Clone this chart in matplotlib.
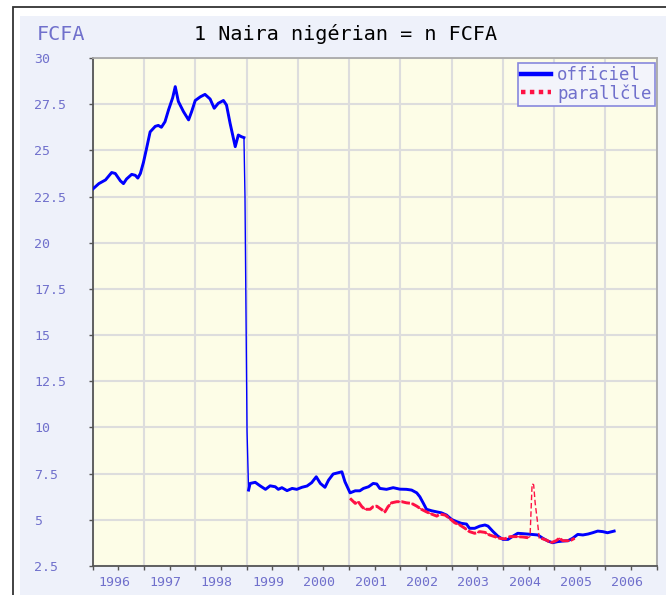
import numpy as np
import matplotlib
matplotlib.use("Agg")
import matplotlib.pyplot as plt
from matplotlib import patches
from matplotlib.lines import Line2D
from matplotlib.transforms import ScaledTranslation

plt.rcParams['font.family'] = ['DejaVu Sans Mono', 'DejaVu Sans']

# cours officiel (FCFA pour 1 naira)
off_years = np.array([
    1996.00, 1996.12, 1996.25, 1996.37, 1996.44, 1996.54, 1996.60, 1996.66, 1996.76, 1996.83,
    1996.88, 1996.93, 1996.99, 1997.05, 1997.12, 1997.22, 1997.28, 1997.34, 1997.41, 1997.48,
    1997.56, 1997.61, 1997.67, 1997.77, 1997.87, 1997.93, 1998.00, 1998.10, 1998.19, 1998.29,
    1998.37, 1998.45, 1998.55, 1998.61, 1998.68, 1998.78, 1998.84, 1998.90, 1998.95, 1998.97,
    1998.99, 1999.01, 1999.04, 1999.07, 1999.17, 1999.27, 1999.37, 1999.46, 1999.56, 1999.62,
    1999.69, 1999.79, 1999.89, 1999.98, 2000.08, 2000.18, 2000.27, 2000.36, 2000.44, 2000.53,
    2000.60, 2000.69, 2000.79, 2000.86, 2000.92, 2001.02, 2001.12, 2001.21, 2001.28, 2001.38,
    2001.47, 2001.54, 2001.60, 2001.73, 2001.86, 2001.99, 2002.12, 2002.22, 2002.32, 2002.38,
    2002.45, 2002.51, 2002.61, 2002.71, 2002.80, 2002.90, 2003.00, 2003.10, 2003.19, 2003.29,
    2003.35, 2003.45, 2003.55, 2003.65, 2003.71, 2003.81, 2003.90, 2004.00, 2004.10, 2004.20,
    2004.29, 2004.39, 2004.52, 2004.68, 2004.78, 2004.88, 2004.97, 2005.07, 2005.17, 2005.27,
    2005.36, 2005.46, 2005.56, 2005.66, 2005.75, 2005.85, 2005.95, 2006.04, 2006.17])
off_vals = np.array([
    22.9, 23.2, 23.4, 23.8, 23.75, 23.35, 23.2, 23.45, 23.7, 23.65,
    23.5, 23.75, 24.35, 25.1, 26.0, 26.3, 26.35, 26.25, 26.55, 27.2,
    27.85, 28.45, 27.65, 27.1, 26.65, 27.1, 27.7, 27.9, 28.03, 27.78,
    27.28, 27.55, 27.7, 27.45, 26.46, 25.2, 25.83, 25.74, 25.69, 22.5,
    16.1, 9.8, 6.61, 6.97, 7.03, 6.83, 6.65, 6.84, 6.79, 6.65,
    6.74, 6.58, 6.70, 6.65, 6.76, 6.83, 7.01, 7.33, 6.97, 6.76,
    7.15, 7.48, 7.55, 7.6, 7.06, 6.46, 6.57, 6.57, 6.70, 6.79,
    6.97, 6.94, 6.70, 6.65, 6.74, 6.66, 6.65, 6.61, 6.46, 6.25,
    5.89, 5.57, 5.49, 5.43, 5.38, 5.26, 5.02, 4.9, 4.81, 4.77,
    4.54, 4.54, 4.66, 4.72, 4.66, 4.36, 4.12, 3.94, 3.94, 4.12,
    4.27, 4.25, 4.22, 4.18, 4.0, 3.85, 3.76, 3.82, 3.85, 3.87,
    4.0, 4.21, 4.18, 4.23, 4.3, 4.39, 4.36, 4.3, 4.39])

# marché parallèle
par_years = np.array([
    2001.02, 2001.12, 2001.18, 2001.25, 2001.31, 2001.41, 2001.47, 2001.54, 2001.60, 2001.70,
    2001.76, 2001.83, 2001.93, 2002.03, 2002.12, 2002.22, 2002.32, 2002.41, 2002.51, 2002.61,
    2002.71, 2002.77, 2002.87, 2002.96, 2003.06, 2003.16, 2003.26, 2003.35, 2003.45, 2003.55,
    2003.65, 2003.74, 2003.84, 2003.94, 2004.04, 2004.14, 2004.26, 2004.39, 2004.49, 2004.53,
    2004.57, 2004.60, 2004.63, 2004.67, 2004.71, 2004.75, 2004.85, 2004.94, 2005.04, 2005.10,
    2005.17, 2005.27, 2005.33, 2005.40])
par_vals = np.array([
    6.16, 5.89, 5.98, 5.71, 5.57, 5.57, 5.71, 5.74, 5.62, 5.43,
    5.71, 5.92, 5.98, 5.98, 5.92, 5.89, 5.74, 5.57, 5.43, 5.31,
    5.2, 5.31, 5.26, 5.08, 4.84, 4.72, 4.54, 4.36, 4.27, 4.36,
    4.32, 4.18, 4.09, 4.0, 3.97, 4.09, 4.09, 4.07, 4.03, 4.1,
    6.95, 6.9, 5.9, 5.0, 4.0, 4.0, 3.9, 3.76, 3.87, 4.0,
    3.87, 3.87, 3.9, 4.0])

years = list(range(1996, 2008))
year_labels = [str(y) for y in range(1996, 2007)]
y_ticks = np.arange(2.5, 30.01, 2.5)

label_col = '#7070cc'

fig = plt.figure(figsize=(6.66, 5.95), dpi=100)
fig.patch.set_facecolor('white')
# cadre et panneau de fond
fig.patches.append(patches.Rectangle((12.5 / 666, -0.1), 1.2, 0.1 + (595 - 7.5) / 595,
                                     transform=fig.transFigure, facecolor='white',
                                     edgecolor='#333333', lw=1.3, zorder=-3))
fig.patches.append(patches.Rectangle((19.5 / 666, 0), 1.0, (595 - 16) / 595,
                                     transform=fig.transFigure, facecolor='#eef1fa',
                                     edgecolor='none', zorder=-2))

ax = fig.add_axes([92.7 / 666, 1 - 566 / 595, (656.7 - 92.7) / 666, (566 - 58) / 595])
ax.set_facecolor('#fdfde7')

# trait fin pour les sauts, trait épais ailleurs
off_thick = np.where((off_years > 1998.96) & (off_years < 1999.03), np.nan, off_vals)
par_thick = np.where((par_years > 2004.52) & (par_years < 2004.72), np.nan, par_vals)

ax.plot(off_years, off_vals, color='#0000ff', lw=1.0, zorder=3)
ax.plot(off_years, off_thick, color='#0000ff', lw=2.1, zorder=3)
ax.plot(par_years, par_vals, color='#ff1144', lw=1.0, dashes=(4, 2), zorder=4)
ax.plot(par_years, par_thick, color='#ff1144', lw=2.1, dashes=(3, 0.7), zorder=4)

ax.set_xlim(1996, 2007)
ax.set_ylim(2.5, 30)

ax.set_xticks(years)
ax.set_xticklabels([])
ax.set_xticks([y + 0.5 for y in range(1996, 2007)], minor=True)
ax.set_xticklabels(year_labels, minor=True)
ax.set_yticks(y_ticks)
ax.set_yticklabels([f"{v:g}" for v in y_ticks])

ax.grid(True, which='major', color='#dddddd', lw=1.5, zorder=0)
ax.set_axisbelow(True)

ax.tick_params(axis='x', which='both', length=3, color='#555555', width=1)
ax.tick_params(axis='x', which='minor', labelsize=9.5, labelcolor=label_col, pad=4)
ax.tick_params(axis='y', length=3, color='#555555', width=1,
               labelsize=9.5, labelcolor=label_col, pad=39)
for lab in ax.get_yticklabels():
    lab.set_horizontalalignment('left')
for lab in ax.get_xticklabels(minor=True):
    lab.set_transform(lab.get_transform() + ScaledTranslation(-4 / 100, 0, fig.dpi_scale_trans))

for side in ['left', 'bottom']:
    ax.spines[side].set_color('#555555')
    ax.spines[side].set_linewidth(1.3)
for side in ['top', 'right']:
    ax.spines[side].set_color('#aaaaaa')
    ax.spines[side].set_linewidth(1.3)

handles = [Line2D([], [], color='#0000ff', lw=3.2),
           Line2D([], [], color='#ff1144', lw=3.2, dashes=(1, 1))]
leg = ax.legend(handles, ['officiel', 'parallčle'], loc='upper right',
                bbox_to_anchor=(0.997, 0.991), borderaxespad=0, fontsize=12.5,
                handlelength=1.7, handletextpad=0.35, labelspacing=0.0,
                borderpad=0.2, fancybox=False, framealpha=1,
                facecolor='#f3f4fb', edgecolor='#8888dd')
leg.get_frame().set_linewidth(1.2)
for t in leg.get_texts():
    t.set_color(label_col)

fig.text(346 / 666, 1 - 34 / 595, '1 Naira nigérian = n FCFA', ha='center', va='center',
         fontsize=14.5, color='black')
fig.text(37 / 666, 1 - 34 / 595, 'FCFA', ha='left', va='center',
         fontsize=14.5, color=label_col)

fig.savefig('out.png', dpi=100)
